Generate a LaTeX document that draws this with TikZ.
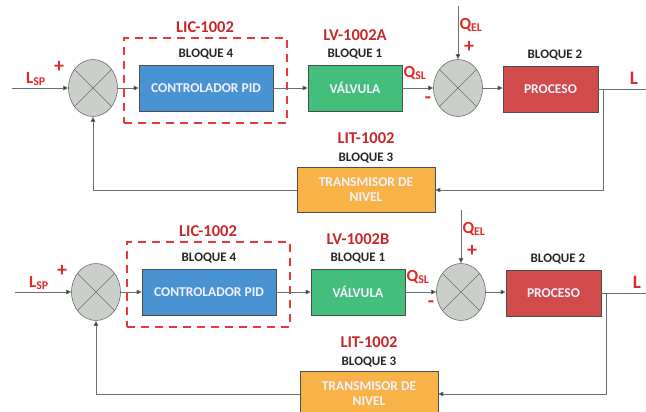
\documentclass[tikz,border=0pt]{standalone}
\usepackage{fontspec}
\setmainfont{Carlito}
\usetikzlibrary{arrows.meta,shapes.geometric}
\definecolor{pidblue}{HTML}{4A93D3}
\definecolor{valgreen}{HTML}{44BF7B}
\definecolor{procred}{HTML}{D24B4B}
\definecolor{tranorange}{HTML}{F8B348}
\definecolor{sumfill}{HTML}{CACFCA}
\definecolor{linegray}{HTML}{6E6E6E}
\definecolor{tagred}{HTML}{C8282A}
\definecolor{sigred}{HTML}{E02A2A}
\definecolor{dashred}{HTML}{E8383A}
\tikzset{
  blockbox/.style={draw=linegray!70!black, line width=0.6pt, minimum height=46pt, inner sep=0pt,
    text=white!94!blue, font=\fontsize{13.5}{15}\selectfont\bfseries, align=center},
  sumnode/.style={ellipse, draw=linegray, fill=sumfill, line width=0.6pt, minimum width=49pt, minimum height=57pt, inner sep=0pt},
  conn/.style={draw=linegray, line width=0.9pt, -{Triangle[length=5pt,width=4.5pt,fill=black]}},
  wire/.style={draw=linegray, line width=0.9pt},
  tagtxt/.style={text=tagred, font=\fontsize{16.5}{17}\selectfont\bfseries, inner sep=0pt},
  blqtxt/.style={text=black!85, font=\fontsize{13}{14}\selectfont\bfseries, inner sep=0pt},
  sigtxt/.style={text=sigred, font=\fontsize{17}{18}\selectfont\bfseries, inner sep=0pt},
  signtxt/.style={text=sigred, font=\fontsize{20}{20}\selectfont\bfseries, inner sep=0pt},
  dashbox/.style={draw=dashred, line width=2pt, dash pattern=on 8pt off 6pt}
}
\begin{document}
\begin{tikzpicture}[x=1pt,y=-1pt]
\useasboundingbox (0,0) rectangle (646,412);
\clip (0,0) rectangle (646,412);
\foreach \p/\dx/\dy/\tag in {a/0/0/A,b/3/204/B}{
\begin{scope}[shift={(\dx,\dy)}]
  % dashed group box
  \node[dashbox, minimum width=163pt, minimum height=85pt] (grp\p) at (205.5,80.5) {};
  % blocks
  \node[sumnode] (sumA\p) at (93,88) {};
  \draw[linegray, line width=0.6pt] (sumA\p.135) -- (sumA\p.-45) (sumA\p.45) -- (sumA\p.-135);
  \node[blockbox, fill=pidblue, minimum width=134pt] (pid\p) at (206,88) {CONTROLADOR PID};
  \node[blockbox, fill=valgreen, minimum width=94pt] (val\p) at (355,88) {VÁLVULA};
  \node[sumnode] (sumB\p) at (458,88) {};
  \draw[linegray, line width=0.6pt] (sumB\p.135) -- (sumB\p.-45) (sumB\p.45) -- (sumB\p.-135);
  \node[blockbox, fill=procred, minimum width=95pt] (proc\p) at (550.5,89) {PROCESO};
  \node[blockbox, fill=tranorange, minimum width=138pt, minimum height=45pt] (tran\p) at (366,190) {TRANSMISOR DE\\NIVEL};
  % coordinates
  \coordinate (in\p) at (12,88);
  \coordinate (qel\p) at (458,6);
  \coordinate (br\p) at (603,89);
  \coordinate (out\p) at (660,89);
  % connectors
  \draw[conn] (in\p) -- (sumA\p.west);
  \draw[conn] (sumA\p.east) -- (pid\p.west);
  \draw[conn] (pid\p.east) -- (val\p.west);
  \draw[conn] (val\p.east) -- (sumB\p.west);
  \draw[conn] (qel\p) -- (sumB\p.north);
  \draw[conn] (sumB\p.east) -- (sumB\p.east -| proc\p.west);
  \draw[wire] (proc\p.east) -- (out\p);
  \draw[conn] (br\p) |- (tran\p.east);
  \draw[conn] (tran\p.west) -| (sumA\p.south);
  % labels
  \node[tagtxt] (lic\p) at (205,27) {LIC-1002};
  \node[blqtxt] (b4\p) at (206,54) {BLOQUE 4};
  \node[tagtxt] (lv\p) at (355,35) {LV-1002\tag};
  \node[blqtxt] (b1\p) at (355,54) {BLOQUE 1};
  \node[blqtxt] (b2\p) at (555,55) {BLOQUE 2};
  \node[tagtxt] (lit\p) at (366,138) {LIT-1002};
  \node[blqtxt] (b3\p) at (366,158) {BLOQUE 3};
  \node[sigtxt] (lsp\p) at (36,79) {L\textsubscript{SP}};
  \node[signtxt] (plA\p) at (59,67) {+};
  \node[sigtxt] (qsl\p) at (415,73) {Q\textsubscript{SL}};
  \node[signtxt] (mi\p) at (428,100) {-};
  \node[sigtxt] (qelt\p) at (471,25) {Q\textsubscript{EL}};
  \node[signtxt] (plB\p) at (469,47) {+};
  \node[sigtxt, font=\fontsize{19}{19}\selectfont\bfseries] (lout\p) at (634,78) {L};
\end{scope}
}
\end{tikzpicture}
\end{document}
